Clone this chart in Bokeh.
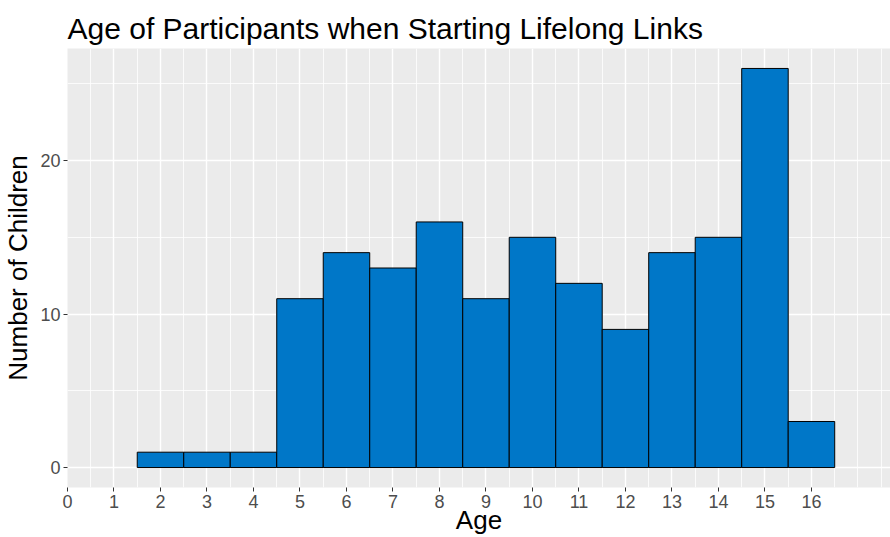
from bokeh.plotting import figure
from bokeh.models import FixedTicker, Range1d
from bokeh.embed import file_html
from bokeh.resources import INLINE

# Data
ages = [2, 3, 4, 5, 6, 7, 8, 9, 10, 11, 12, 13, 14, 15, 16]
counts = [1, 1, 1, 11, 14, 13, 16, 11, 15, 12, 9, 14, 15, 26, 3]
x_tick_values = list(range(0, 17))
x_minor_values = [i / 2 for i in range(1, 36) if not (i % 2 == 0 and i <= 32)]
y_tick_values = [0, 10, 20]
y_minor_values = [5, 15, 25]

FONT = "Liberation Sans"

p = figure(
    width=890, height=537,
    x_range=Range1d(0, 17.7), y_range=Range1d(-1.3, 27.3),
    output_backend="svg", toolbar_location=None,
    min_border_left=67, min_border_right=0,
    min_border_top=48, min_border_bottom=50,
)

p.title.text = "Age of Participants when Starting Lifelong Links"
p.title.text_font = FONT
p.title.text_font_size = "30px"
p.title.text_font_style = "normal"
p.title.text_color = "black"
p.title.align = "left"
p.title.standoff = 7

p.background_fill_color = "#EBEBEB"
p.border_fill_color = "white"
p.outline_line_color = None

p.vbar(x=ages, top=counts, bottom=0, width=1,
       fill_color="#0077C8", line_color="black", line_width=1)

# grids
p.xgrid.ticker = FixedTicker(ticks=x_tick_values, minor_ticks=x_minor_values)
p.ygrid.ticker = FixedTicker(ticks=y_tick_values, minor_ticks=y_minor_values)
for g in (p.xgrid, p.ygrid):
    g.grid_line_color = "white"
    g.grid_line_width = 1.4
    g.minor_grid_line_color = "white"
    g.minor_grid_line_width = 0.8

# axes
p.xaxis.ticker = FixedTicker(ticks=x_tick_values, minor_ticks=[])
p.yaxis.ticker = FixedTicker(ticks=y_tick_values, minor_ticks=[])
p.xaxis.axis_label = "Age"
p.yaxis.axis_label = "Number of Children"
for ax in (p.xaxis, p.yaxis):
    ax.axis_line_color = None
    ax.major_tick_line_color = "#333333"
    ax.major_tick_out = 4
    ax.major_tick_in = 0
    ax.minor_tick_line_color = None
    ax.major_label_text_font = FONT
    ax.major_label_text_font_size = "18px"
    ax.major_label_text_color = "#4D4D4D"
    ax.major_label_standoff = 3
    ax.axis_label_text_font = FONT
    ax.axis_label_text_font_size = "26px"
    ax.axis_label_text_font_style = "normal"
    ax.axis_label_text_color = "black"
p.xaxis.axis_label_standoff = -6
p.yaxis.axis_label_standoff = 4

open("out.html", "w").write(file_html(p, INLINE))
